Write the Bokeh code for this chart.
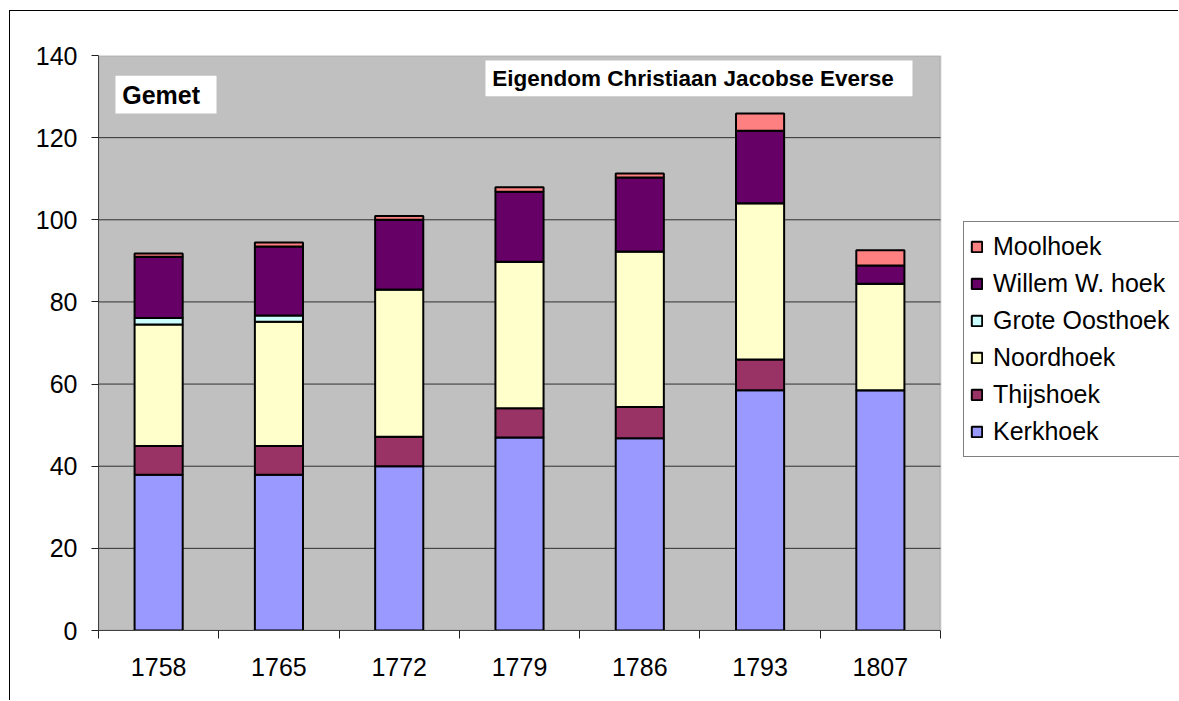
from bokeh.plotting import figure
from bokeh.models import (ColumnDataSource, FixedTicker, Legend, LegendItem,
                          BoxAnnotation, Label, Range1d)
from bokeh.embed import file_html
from bokeh.resources import INLINE

# ---- data ----
years = ["1758", "1765", "1772", "1779", "1786", "1793", "1807"]
kerkhoek = [37.9, 37.9, 40.0, 47.0, 46.8, 58.5, 58.5]
thijshoek = [7.0, 7.0, 7.2, 7.1, 7.6, 7.5, 0.0]
noordhoek = [29.6, 30.3, 35.8, 35.7, 37.9, 38.0, 25.9]
grote_oosthoek = [1.6, 1.5, 0.0, 0.0, 0.0, 0.0, 0.0]
willem_w_hoek = [14.9, 16.8, 17.0, 17.0, 18.0, 17.7, 4.5]
moolhoek = [0.8, 1.0, 0.9, 1.1, 1.0, 4.2, 3.7]
series_names = ["Kerkhoek", "Thijshoek", "Noordhoek", "Grote Oosthoek",
                "Willem W. hoek", "Moolhoek"]
series_colors = ["#9999FF", "#993366", "#FFFFCC", "#CCFFFF", "#660066", "#FF8080"]
y_ticks = [0, 20, 40, 60, 80, 100, 120, 140]
y_label = "Gemet"
title_text = "Eigendom Christiaan Jacobse Everse"

FONT = "Liberation Sans"
N = len(years)
Y_MAX = y_ticks[-1]

positions = [i + 0.5 for i in range(N)]
keys = ["k", "t", "n", "g", "w", "m"]
source = ColumnDataSource(dict(x=positions, k=kerkhoek, t=thijshoek, n=noordhoek,
                               g=grote_oosthoek, w=willem_w_hoek, m=moolhoek))

# frame spans to the right edge so the legend can sit inside it;
# the gray plot area covers only the category span [0, N]
p = figure(width=1169, height=690, output_backend="svg", toolbar_location=None,
           x_range=Range1d(0, N * 1081 / 842), y_range=Range1d(0, Y_MAX),
           min_border_left=88, min_border_right=0, min_border_top=44,
           min_border_bottom=71)
p.margin = (10, 0, 0, 9)
p.styles = {"border-left": "1px solid black", "border-top": "1px solid black"}
p.background_fill_color = "white"
p.border_fill_color = "white"
p.outline_line_color = None

# gray plot area
p.add_layout(BoxAnnotation(left=0, right=N, bottom=0, top=Y_MAX, fill_color="#C0C0C0",
                           fill_alpha=1, line_color="#808080", line_width=2, level="underlay"))

# horizontal grid lines limited to the plot area
grid_y = y_ticks[1:-1]
p.segment(x0=[0] * len(grid_y), x1=[N] * len(grid_y), y0=grid_y, y1=grid_y,
          line_color="#303030", line_width=1)

renderers = p.vbar_stack(keys, x="x", width=0.4, source=source,
                         fill_color=series_colors, line_color="black", line_width=2)

p.xgrid.grid_line_color = None
p.ygrid.grid_line_color = None

# y axis
p.yaxis.ticker = FixedTicker(ticks=y_ticks)
p.yaxis.major_tick_out = 7
p.yaxis.major_tick_in = 0
p.yaxis.minor_tick_line_color = None
p.yaxis.axis_line_color = "#404040"
p.yaxis.major_tick_line_color = "#202020"
p.yaxis.major_label_text_font = FONT
p.yaxis.major_label_text_font_size = "25px"
p.yaxis.major_label_text_color = "black"
p.yaxis.major_label_standoff = 14

# x axis
p.xaxis.bounds = (0, N)
p.xaxis.ticker = FixedTicker(ticks=positions, minor_ticks=list(range(N + 1)))
p.xaxis.major_label_overrides = {pos: yr for pos, yr in zip(positions, years)}
p.xaxis.major_tick_line_color = None
p.xaxis.major_tick_out = 8
p.xaxis.major_tick_in = 0
p.xaxis.minor_tick_line_color = "#202020"
p.xaxis.minor_tick_out = 8
p.xaxis.minor_tick_in = 0
p.xaxis.axis_line_color = "#404040"
p.xaxis.major_label_text_font = FONT
p.xaxis.major_label_text_font_size = "25px"
p.xaxis.major_label_text_color = "black"
p.xaxis.major_label_standoff = 19

# text boxes
p.add_layout(BoxAnnotation(left=0.141, right=0.981, top=135.1, bottom=125.9,
                           fill_color="white", fill_alpha=1, line_color=None, level="underlay"))
p.add_layout(Label(x=0.197, y=130.5, text=y_label, text_font=FONT, text_font_size="25px",
                   text_font_style="bold", text_baseline="middle", text_align="left",
                   text_color="black", level="overlay"))
p.add_layout(BoxAnnotation(left=3.217, right=6.767, top=138.8, bottom=130.1,
                           fill_color="white", fill_alpha=1, line_color=None, level="underlay"))
p.add_layout(Label(x=3.274, y=134.4, text=title_text, text_font=FONT, text_font_size="22.5px",
                   text_font_style="bold", text_baseline="middle", text_align="left",
                   text_color="black", level="overlay"))

# legend (reverse order: top item is last series)
items = [LegendItem(label=name, renderers=[r]) for name, r in zip(series_names, renderers)]
items = items[::-1]
legend = Legend(items=items, location=(865, 173), border_line_color="black",
                border_line_width=1, background_fill_color="white", background_fill_alpha=1,
                label_text_font=FONT, label_text_font_size="25px", label_text_color="black",
                label_height=37, label_width=200, glyph_height=13, glyph_width=13,
                spacing=0, padding=6, margin=0, label_standoff=10)
p.add_layout(legend)

open("out.html", "w").write(file_html(p, INLINE))
